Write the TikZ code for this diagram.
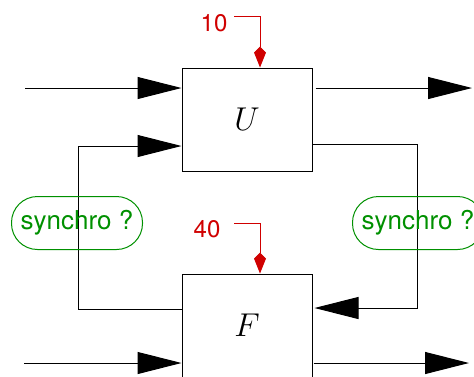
\RequirePackage{fix-cm}
\documentclass[tikz,border=0pt]{standalone}
\usepackage{fontspec}
\setsansfont{TeX Gyre Heros}
\usetikzlibrary{arrows.meta}
\definecolor{figred}{RGB}{208,0,0}
\definecolor{figgreen}{RGB}{0,144,0}
\begin{document}
\begin{tikzpicture}[x=1pt,y=-1pt,
  blk/.style={draw,line width=1pt,minimum width=130pt,minimum height=103pt,inner sep=0pt,
    font=\fontsize{33}{40}\selectfont},
  arr/.style={line width=1pt,-{Triangle[length=44pt,width=22pt]}},
  redarr/.style={draw=figred,line width=1pt,-{Kite[length=21pt,width=12pt,inset=6pt]},figred},
  num/.style={text=figred,font=\sffamily\fontsize{24}{28}\selectfont,inner sep=0pt},
  sync/.style={draw=figgreen,text=figgreen,line width=1pt,rounded corners=26pt,
    minimum width=131pt,minimum height=53pt,inner sep=0pt,
    font=\sffamily\fontsize{26}{30}\selectfont}]
\useasboundingbox (0,0) rectangle (474,376);
\node[blk] (U) at (247,119.5) {$U$};
\node[blk] (F) at (247,325.5) {$F$};
% external inputs/outputs
\coordinate (inU) at (25,88);
\coordinate (outU) at (472,88);
\coordinate (inF) at (24,363);
\coordinate (outF) at (469,363);
\draw[arr] (inU) -- (U.west |- inU);
\draw[arr,shorten <=3pt] (U.east |- outU) -- (outU);
\draw[arr] (inF) -- (F.west |- inF);
\draw[arr,shorten <=1pt] (F.east |- outF) -- (outF);
% feedback loops
\draw[arr] (F.west |- 0,309) -- (78,309) -- (78,146) -- (U.west |- 0,146);
\draw[arr,shorten >=2pt] (U.east |- 0,144) -- (417,144) -- (417,308) -- (F.east |- 0,308);
% red parameters
\node[num] (n10) at (214,23.5) {10};
\node[num] (n40) at (207,229.5) {40};
\coordinate (c10) at (234,16);
\coordinate (c40) at (234,223);
\draw[redarr] (c10) -| (260,0 |- U.north);
\draw[redarr] (c40) -| (260,0 |- F.north);
% synchro labels
\node[sync] (s1) at (77,223) {synchro ?};
\node[sync] (s2) at (418,223) {synchro ?};
\end{tikzpicture}
\end{document}
